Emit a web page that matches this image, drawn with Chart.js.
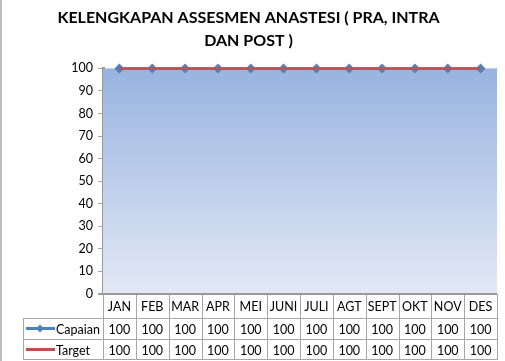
<!DOCTYPE html>
<html>
<head>
<meta charset="utf-8">
<script src="https://cdn.jsdelivr.net/npm/chart.js@4/dist/chart.umd.min.js"></script>
<style>
  html, body { margin: 0; padding: 0; background: #fff; }
  #wrap { width: 505px; height: 361px; position: relative; }
</style>
</head>
<body>
<div id="wrap"><canvas id="grafik"></canvas></div>
<script>
// Data
const judul = ["KELENGKAPAN ASSESMEN ANASTESI ( PRA, INTRA", "DAN POST )"];
const bulan = ["JAN", "FEB", "MAR", "APR", "MEI", "JUNI", "JULI", "AGT", "SEPT", "OKT", "NOV", "DES"];
const capaian = [100, 100, 100, 100, 100, 100, 100, 100, 100, 100, 100, 100];
const target = [100, 100, 100, 100, 100, 100, 100, 100, 100, 100, 100, 100];
const yMin = 0, yMax = 100, yStep = 10;

const BIRU = "#4f81bd";
const MERAH = "#c0504d";
const GARIS = "#a6a6a6";
const FONT = "Lato, 'Liberation Sans', sans-serif";

// latar area plot (gradasi biru)
const latarPlot = {
  id: "latarPlot",
  beforeDatasetsDraw(chart) {
    const { ctx, chartArea: a } = chart;
    const g = ctx.createLinearGradient(0, a.top, 0, a.bottom);
    g.addColorStop(0, "#98b3e0");
    g.addColorStop(1, "#e3e9f5");
    ctx.save();
    ctx.fillStyle = g;
    ctx.fillRect(a.left, a.top, a.right - a.left, a.bottom - a.top);
    ctx.restore();
  }
};

// tabel data di bawah grafik
const tabelData = {
  id: "tabelData",
  afterDraw(chart) {
    const { ctx, chartArea: a } = chart;
    const xs = chart.scales.x;
    const lebar = (a.right - a.left) / bulan.length;
    const yHead = a.bottom, yR1 = a.bottom + 24, yR2 = yR1 + 21, yR3 = yR2 + 21;
    const kiriLegenda = 23;

    ctx.save();
    ctx.strokeStyle = GARIS;
    ctx.lineWidth = 1;
    ctx.beginPath();
    // garis horizontal
    ctx.moveTo(kiriLegenda, yR1 + 0.5); ctx.lineTo(a.right, yR1 + 0.5);
    ctx.moveTo(kiriLegenda, yR2 + 0.5); ctx.lineTo(a.right, yR2 + 0.5);
    ctx.moveTo(kiriLegenda, yR3 - 0.5); ctx.lineTo(a.right, yR3 - 0.5);
    // garis vertikal
    ctx.moveTo(kiriLegenda + 0.5, yR1); ctx.lineTo(kiriLegenda + 0.5, yR3);
    for (let i = 0; i <= bulan.length; i++) {
      const x = Math.round(a.left + i * lebar) + 0.5;
      ctx.moveTo(x, yHead); ctx.lineTo(x, yR3);
    }
    ctx.stroke();

    // sumbu bawah
    ctx.strokeStyle = "#999";
    ctx.lineWidth = 2;
    ctx.beginPath();
    ctx.moveTo(a.left - 5, a.bottom); ctx.lineTo(a.right, a.bottom);
    ctx.stroke();

    ctx.fillStyle = "#000";
    ctx.font = "12.5px " + FONT;
    ctx.textAlign = "center";
    ctx.textBaseline = "middle";
    bulan.forEach((b, i) => {
      const x = xs.getPixelForValue(i);
      ctx.fillText(b, x, (yHead + yR1) / 2 + 1);
      ctx.fillText(String(capaian[i]), x, (yR1 + yR2) / 2 + 1);
      ctx.fillText(String(target[i]), x, (yR2 + yR3) / 2 + 1);
    });

    // kunci legenda
    const ly1 = (yR1 + yR2) / 2, ly2 = (yR2 + yR3) / 2;
    ctx.lineWidth = 3;
    ctx.strokeStyle = BIRU;
    ctx.beginPath(); ctx.moveTo(26, ly1); ctx.lineTo(55, ly1); ctx.stroke();
    ctx.fillStyle = BIRU;
    ctx.beginPath();
    ctx.moveTo(40, ly1 - 4); ctx.lineTo(44, ly1); ctx.lineTo(40, ly1 + 4); ctx.lineTo(36, ly1);
    ctx.closePath(); ctx.fill();
    ctx.strokeStyle = MERAH;
    ctx.beginPath(); ctx.moveTo(26, ly2); ctx.lineTo(55, ly2); ctx.stroke();

    ctx.fillStyle = "#000";
    ctx.textAlign = "left";
    ctx.fillText(chart.data.datasets[0].label, 56, ly1 + 1);
    ctx.fillText(chart.data.datasets[1].label, 56, ly2 + 1);

    // bingkai kiri
    ctx.fillStyle = "#bfbfbf";
    ctx.fillRect(0, 0, 2, chart.height);
    ctx.restore();
  }
};

new Chart(document.getElementById("grafik"), {
  type: "line",
  data: {
    labels: bulan,
    datasets: [
      {
        label: "Capaian",
        data: capaian,
        order: 1,
        borderColor: BIRU,
        backgroundColor: BIRU,
        borderWidth: 2.5,
        pointStyle: "rectRot",
        pointRadius: 5,
        pointBorderWidth: 0,
        fill: false,
        clip: false
      },
      {
        label: "Target",
        data: target,
        order: 0,
        borderColor: MERAH,
        backgroundColor: MERAH,
        borderWidth: 2.5,
        pointRadius: 0,
        fill: false,
        clip: false
      }
    ]
  },
  options: {
    responsive: true,
    maintainAspectRatio: false,
    animation: false,
    layout: { padding: { left: 0, right: 8, top: 0, bottom: 67 } },
    plugins: {
      legend: { display: false },
      tooltip: { enabled: false },
      title: {
        display: true,
        text: judul,
        color: "#000",
        font: { family: FONT, size: 16, weight: "bold", lineHeight: 1.45 },
        padding: { top: 6, bottom: 16 }
      }
    },
    scales: {
      x: {
        display: false,
        offset: true
      },
      y: {
        min: yMin,
        max: yMax,
        afterFit(scale) { scale.width = 103; },
        ticks: {
          stepSize: yStep,
          color: "#000",
          padding: 5,
          font: { family: FONT, size: 12.5 }
        },
        grid: { drawOnChartArea: false, tickLength: 5, color: GARIS },
        border: { color: "#999", width: 3 }
      }
    }
  },
  plugins: [latarPlot, tabelData]
});
</script>
</body>
</html>
